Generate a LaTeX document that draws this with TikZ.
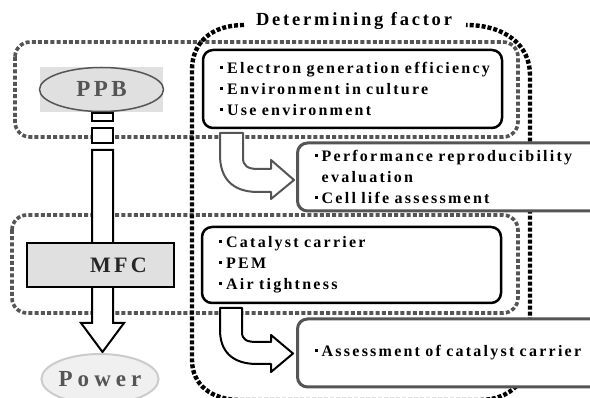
\documentclass[tikz,border=0pt]{standalone}
\usepackage{fontspec}
\setmainfont{Liberation Serif}
\newfontfamily\lsfont[LetterSpace=14]{Liberation Serif}
\newfontfamily\lshead[LetterSpace=15]{Liberation Serif}
\newfontfamily\lswide[LetterSpace=22]{Liberation Serif}
\usetikzlibrary{shapes.geometric}
\definecolor{gline}{HTML}{555555}
\definecolor{gfill}{HTML}{E0E0E0}
\definecolor{pfill}{HTML}{F0F0F0}
\definecolor{pline}{HTML}{CCCCCC}
\newcommand{\bul}{\rule[0.3em]{0.2em}{0.2em}\hspace{0.25em}}
\tikzset{
  graydot/.style={draw=gline, line width=3.6pt, dash pattern=on 4pt off 2.2pt, rounded corners=15pt},
  blackdot/.style={draw=black, line width=4.4pt, dash pattern=on 4pt off 2pt},
  txt/.style={font=\lsfont\bfseries\fontsize{16}{21}\selectfont, align=left},
  blackbox/.style={draw=black, line width=2.5pt, rounded corners=10pt, fill=white, txt, inner xsep=17pt, inner ysep=0pt},
  graybox/.style={draw=gline, line width=3pt, rounded corners=10pt, fill=white, txt, inner xsep=17pt, inner ysep=0pt},
  bigarrow/.style={draw=black, line width=2pt, fill=white, line join=miter},
  turnarrow/.style={line width=2pt, fill=white, line join=round},
}
\begin{document}
\begin{tikzpicture}[x=1pt,y=-1pt]
\useasboundingbox (0,0) rectangle (590,398);
\fill[white] (0,0) rectangle (590,398);
% group frames
\draw[graydot] (15,42) rectangle (518,137);
\draw[graydot] (12,215) rectangle (518,313);
% determining factor frame
\node[font=\lshead\bfseries\fontsize{18.5}{20}\selectfont, inner sep=0pt] (det) at (354,21) {Determining factor};
\draw[blackdot] (244,25) .. controls (212,25) and (192,42) .. (192,70) -- (192,360)
  .. controls (192,385) and (212,400) .. (240,400) -- (480,400)
  .. controls (510,400) and (530,380) .. (530,350) -- (530,75)
  .. controls (530,45) and (505,25) .. (466,25);
% main flow arrow
\node[draw=black, line width=2pt, fill=white, minimum width=21pt, minimum height=8pt, inner sep=0pt] (s1) at (102.5,117) {};
\node[draw=black, line width=2pt, fill=white, minimum width=21pt, minimum height=15pt, inner sep=0pt] (s2) at (102.5,135.5) {};
\draw[bigarrow] (92,150) -- (113,150) -- (113,323) -- (124,323) -- (102.5,352) -- (81,323) -- (92,323) -- cycle;
% PPB
\fill[gfill] (40,67) rectangle (163,112);
\node[ellipse, draw=gline, line width=1.5pt, fill=gfill, minimum width=124pt, minimum height=44pt, inner sep=0pt,
  text=gline, font=\lshead\bfseries\fontsize{23}{25}\selectfont] (ppb) at (101.5,89.5) {PPB};
% MFC
\node[draw=black, line width=2pt, fill=gfill, minimum width=147pt, minimum height=44pt, inner sep=0pt,
  text=black!85, font=\lshead\bfseries\fontsize{22}{24}\selectfont] (mfc) at (100.5,265) {\hspace*{36pt}MFC};
% Power
\node[ellipse, draw=pline, line width=2pt, fill=pfill, minimum width=110pt, minimum height=50pt, inner sep=0pt,
  text=gline, font=\lswide\bfseries\fontsize{23}{25}\selectfont] (pow) at (100,379) {Power};
% text boxes
\node[blackbox, text width=265pt, minimum height=78pt] (b1) at (352.5,89)
  {\bul Electron generation efficiency\\ \bul Environment in culture\\ \bul Use environment};
\node[graybox, text width=280pt, minimum height=68pt, anchor=west] (b2) at (296,177)
  {\bul Performance reproducibility\\ \phantom{\bul}evaluation\\ \bul Cell life assessment};
\node[blackbox, text width=265pt, minimum height=76pt] (b3) at (351.5,265)
  {\bul Catalyst carrier\\ \bul PEM\\ \bul Air tightness};
\node[graybox, text width=280pt, minimum height=68pt, anchor=west] (b4) at (296,353)
  {\bul Assessment of catalyst carrier};
% turn arrows
\draw[turnarrow, draw=gline] (220,133) -- (243,133) -- (243,158) .. controls (243,166) and (248,169) .. (258,169)
  -- (271,169) -- (271,160) -- (294,180) -- (271,199) -- (271,192) -- (258,192)
  .. controls (232,192) and (220,178) .. (220,155) -- cycle;
\draw[turnarrow, draw=black] (220,308) -- (242,308) -- (242,332) .. controls (242,340) and (247,342) .. (257,342)
  -- (271,342) -- (271,335) -- (293,353.5) -- (271,372) -- (271,364) -- (257,364)
  .. controls (232,364) and (220,351) .. (220,330) -- cycle;
\end{tikzpicture}
\end{document}
